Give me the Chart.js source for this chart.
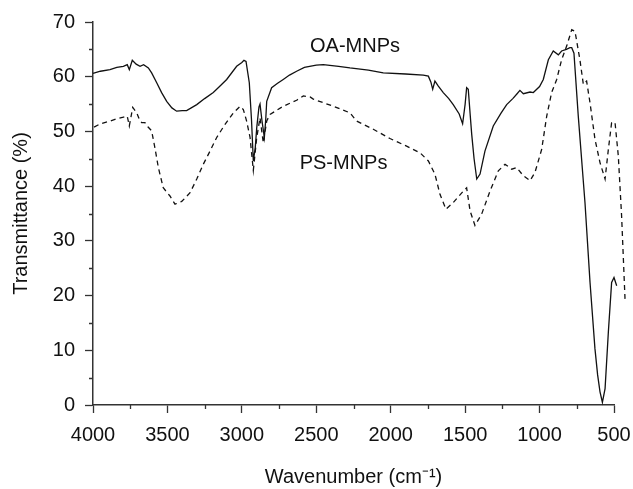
<!DOCTYPE html>
<html>
<head>
<meta charset="utf-8">
<script src="https://cdn.jsdelivr.net/npm/chart.js"></script>
<style>
  body { margin: 0; background: #fff; }
</style>
</head>
<body>
<canvas id="myChart" width="633" height="489"></canvas>
<script>
// FTIR spectra, wavenumber (cm-1) vs transmittance (%)
let oaWave = [4000,3950,3886,3840,3796,3770,3756,3736,3710,3684,3660,3628,3606,3572,3539,3505,3470,3438,3400,3371,3303,3250,3192,3150,3102,3035,3000,2986,2972,2950,2935,2923,2910,2900,2885,2878,2865,2849,2840,2833,2800,2760,2722,2680,2632,2580,2500,2453,2350,2274,2150,2050,1900,1781,1747,1730,1718,1703,1680,1647,1610,1580,1540,1517,1500,1490,1479,1466,1456,1440,1422,1400,1367,1311,1260,1221,1180,1154,1132,1109,1064,1042,1000,975,941,908,874,852,820,796,784,769,740,715,695,661,628,610,594,578,560,538,516,500,482];
let oaTrans = [60.6,61.0,61.3,61.7,61.9,62.2,61.3,63.0,62.3,61.9,62.2,61.6,60.7,58.9,57.1,55.5,54.3,53.7,53.8,53.8,54.9,56.0,57.1,58.2,59.5,61.9,62.6,63.0,62.8,58.9,52.0,44.6,47.0,50.7,54.5,55.0,52.0,48.9,52.0,55.5,58.0,58.8,59.5,60.3,61.0,61.7,62.1,62.2,61.9,61.6,61.2,60.7,60.5,60.3,60.1,59.0,57.7,59.2,58.3,57.1,56.0,54.9,53.2,51.4,55.0,58.0,57.7,53.0,49.5,45.0,41.3,42.2,46.4,51.0,53.3,54.9,56.0,56.8,57.5,56.9,57.2,57.1,58.2,59.5,63.1,64.7,64.0,64.7,65.0,65.3,65.3,64.3,52.8,44.0,37.0,22.4,10.3,5.5,2.4,0.5,3.0,13.3,22.4,23.3,21.8];

let psWave = [3993,3950,3886,3840,3796,3770,3756,3733,3706,3690,3673,3651,3630,3606,3584,3561,3528,3483,3449,3404,3348,3303,3259,3214,3169,3113,3057,3012,2990,2968,2945,2923,2900,2878,2856,2833,2811,2722,2632,2587,2542,2520,2386,2274,2229,2117,2005,1893,1803,1747,1703,1669,1629,1580,1512,1490,1467,1434,1389,1333,1277,1232,1187,1154,1109,1064,1031,986,952,919,885,852,818,784,762,729,706,684,661,628,594,560,538,516,493,471,449,426];
let psTrans = [50.8,51.4,51.9,52.3,52.6,52.8,51.0,54.4,53.4,52.3,51.6,51.6,50.8,50.1,47.0,43.4,39.7,38.2,36.7,37.2,38.8,41.3,44.0,46.4,48.9,51.3,53.4,54.6,54.0,51.9,48.9,42.9,48.9,52.5,47.9,51.9,53.1,54.6,55.7,56.5,56.3,55.9,54.6,53.4,51.9,50.4,48.7,47.3,46.1,44.6,42.2,38.5,35.8,37.0,39.1,39.7,35.5,32.8,34.9,39.1,42.8,44.0,43.1,43.4,41.9,41.0,42.5,46.7,52.8,57.1,59.5,63.1,65.6,68.6,68.3,63.1,58.6,59.2,55.2,48.6,44.3,41.3,46.7,51.6,51.6,45.5,34.6,19.4];

let seriesNames = ['OA-MNPs', 'PS-MNPs'];
let labelWave = [2240, 2317];   // where the curve names sit
let labelTrans = [65.6, 44.1];

let xTicks = [500, 1000, 1500, 2000, 2500, 3000, 3500, 4000];
let yTicks = [0, 10, 20, 30, 40, 50, 60, 70];

function toPoints(xs, ys) {
  let pts = [];
  for (let i = 0; i < xs.length; i++) pts.push({x: xs[i], y: ys[i]});
  return pts;
}

// minor ticks + curve names
const extras = {
  id: 'extras',
  afterDraw(chart) {
    const ctx = chart.ctx;
    const xs = chart.scales.x, ys = chart.scales.y;
    const area = chart.chartArea;
    ctx.save();
    ctx.strokeStyle = '#333';
    ctx.lineWidth = 1.3;
    ctx.beginPath();
    for (let v = 750; v < 4000; v += 500) {
      let px = Math.round(xs.getPixelForValue(v)) + 0.5;
      ctx.moveTo(px, area.bottom);
      ctx.lineTo(px, area.bottom + 4);
    }
    for (let v = 5; v < 70; v += 10) {
      let py = Math.round(ys.getPixelForValue(v)) + 0.5;
      ctx.moveTo(area.left, py);
      ctx.lineTo(area.left - 4, py);
    }
    ctx.stroke();

    ctx.fillStyle = '#111';
    ctx.font = '20px "Liberation Sans", Arial, sans-serif';
    ctx.textAlign = 'center';
    ctx.textBaseline = 'middle';
    for (let i = 0; i < seriesNames.length; i++) {
      ctx.fillText(seriesNames[i], xs.getPixelForValue(labelWave[i]), ys.getPixelForValue(labelTrans[i]));
    }
    ctx.restore();
  }
};

let font = {family: '"Liberation Sans", Arial, sans-serif', size: 20};

let ctx = document.getElementById('myChart');
let myChart = new Chart(ctx, {
  type: 'line',
  data: {
    datasets: [{
      label: seriesNames[0],
      data: toPoints(oaWave, oaTrans),
      borderColor: '#111',
      borderWidth: 1.3,
      pointRadius: 0,
      tension: 0,
      clip: false
    }, {
      label: seriesNames[1],
      data: toPoints(psWave, psTrans),
      borderColor: '#111',
      borderWidth: 1.3,
      borderDash: [5, 4],
      pointRadius: 0,
      tension: 0,
      clip: false
    }]
  },
  options: {
    responsive: false,
    animation: false,
    parsing: false,
    layout: { padding: {top: 21, right: 19, left: 0, bottom: 0} },
    plugins: { legend: {display: false}, tooltip: {enabled: false} },
    scales: {
      x: {
        type: 'linear',
        reverse: true,
        min: 500,
        max: 4000,
        afterFit: (s) => { s.height = 84; },
        afterBuildTicks: (s) => { s.ticks = xTicks.map(v => ({value: v})); },
        ticks: { color: '#111', font: font, padding: 10, maxRotation: 0, callback: (v) => String(v) },
        grid: { drawOnChartArea: false, drawTicks: true, tickLength: 8, tickColor: '#333', tickWidth: 1.3 },
        border: { color: '#333', width: 1.5 },
        title: { display: true, text: 'Wavenumber (cm\u207B\u00B9)', color: '#111', font: font, padding: {top: 0, bottom: 0} }
      },
      y: {
        min: 0,
        max: 70,
        afterFit: (s) => { s.width = 93; },
        afterBuildTicks: (s) => { s.ticks = yTicks.map(v => ({value: v})); },
        ticks: { color: '#111', font: font, padding: 10, callback: (v) => String(v) },
        grid: { drawOnChartArea: false, drawTicks: true, tickLength: 8, tickColor: '#333', tickWidth: 1.3 },
        border: { color: '#333', width: 1.5 },
        title: { display: true, text: 'Transmittance (%)', color: '#111', font: font, padding: {top: 9, bottom: 0} }
      }
    }
  },
  plugins: [extras]
});
</script>
</body>
</html>
